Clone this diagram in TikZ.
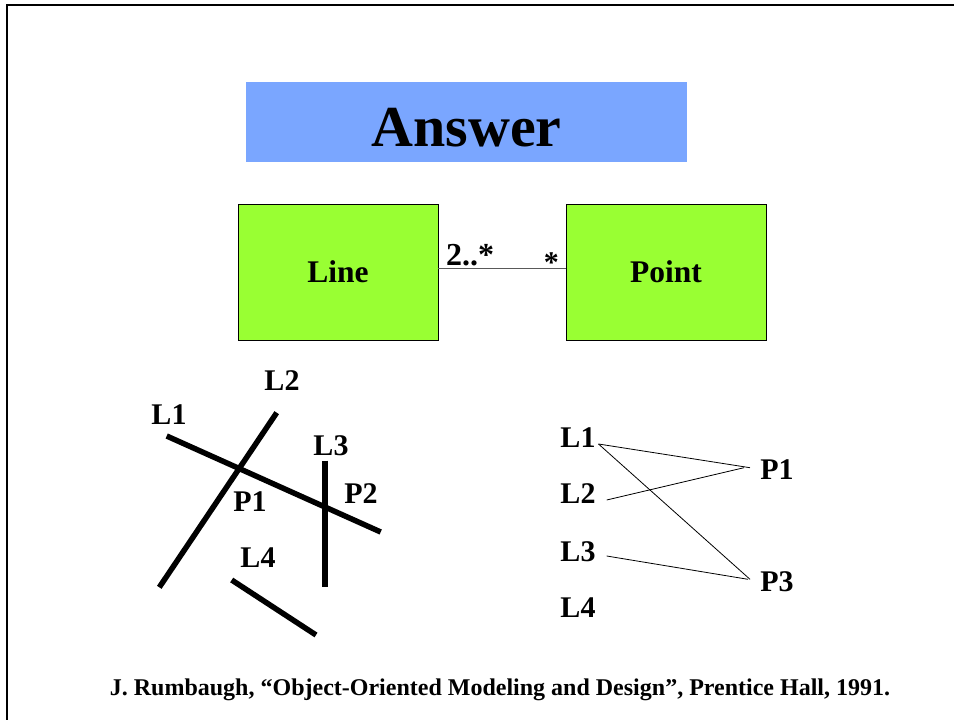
\documentclass[tikz,border=0pt]{standalone}
\usepackage{fontspec}
\setmainfont{Liberation Serif}
\definecolor{titleblue}{RGB}{122,166,255}
\definecolor{boxgreen}{RGB}{153,255,51}
\begin{document}
\begin{tikzpicture}[x=1pt,y=-1pt,
  lbl/.style={font=\bfseries\fontsize{30}{32}\selectfont, inner sep=0pt, anchor=center},
  thick line/.style={line width=5.5pt},
  thin link/.style={line width=0.8pt},
  classbox/.style={draw=black, line width=0.6pt, fill=boxgreen, minimum width=200pt, minimum height=136pt, inner sep=0pt, font=\bfseries\fontsize{31.5}{33}\selectfont}]
\useasboundingbox (0,0) rectangle (954,720);
% frame
\draw[line width=2.5pt] (7,722) -- (7,5) -- (956,5);
% title
\node[fill=titleblue, minimum width=441pt, minimum height=80pt, inner sep=0pt] (title) at (466.5,122) {};
\node[font=\bfseries\fontsize{58}{60}\selectfont, inner sep=0pt, anchor=base] (titletext) at (466.5,146) {Answer};
% classes
\node[classbox] (line) at (338,272) {Line};
\node[classbox] (point) at (666,272) {Point};
\draw[gray!70!black, line width=0.8pt] (line.east |- 0,268) coordinate (a1) -- (point.west |- 0,268) coordinate (a2);
\node[font=\bfseries\fontsize{32}{34}\selectfont, inner sep=0pt, anchor=south west] (m1) at (446,266) {2..*};
\node[font=\bfseries\fontsize{30}{32}\selectfont, inner sep=0pt, anchor=south east] (m2) at (559,273) {*};
% left geometric figure
\coordinate (l1a) at (166.7,436);
\coordinate (l1b) at (380.7,532);
\coordinate (l2a) at (276.7,412.7);
\coordinate (l2b) at (159.3,587.3);
\coordinate (l3a) at (325,460.7);
\coordinate (l3b) at (325,587.3);
\coordinate (l4a) at (231.7,580);
\coordinate (l4b) at (316,635);
\draw[thick line] (l1a) -- (l1b);
\draw[thick line] (l2a) -- (l2b);
\draw[thick line] (l3a) -- (l3b);
\draw[thick line] (l4a) -- (l4b);
\node[lbl] (gL1) at (169,415) {L1};
\node[lbl] (gL2) at (282,381) {L2};
\node[lbl] (gL3) at (331,446) {L3};
\node[lbl] (gP1) at (250,502) {P1};
\node[lbl] (gP2) at (361,494) {P2};
\node[lbl] (gL4) at (258,558) {L4};
% right mapping
\node[lbl] (rL1) at (578,438) {L1};
\node[lbl] (rL2) at (578,494) {L2};
\node[lbl] (rL3) at (578,552) {L3};
\node[lbl] (rL4) at (578,608) {L4};
\node[lbl] (rP1) at (777,470) {P1};
\node[lbl] (rP3) at (777,582) {P3};
\coordinate (cL1) at (598.5,444);
\coordinate (cL2) at (606.7,500);
\coordinate (cL3) at (606.7,556);
\coordinate (cP1a) at (750,467.7);
\coordinate (cP1b) at (744,467.7);
\coordinate (cP3a) at (750,579.3);
\coordinate (cP3b) at (748,579.3);
\draw[thin link] (cL1) -- (cP1a);
\draw[thin link] (cL1) -- (cP3a);
\draw[thin link] (cL2) -- (cP1b);
\draw[thin link] (cL3) -- (cP3b);
% citation
\node[font=\bfseries\fontsize{24}{26}\selectfont, inner sep=0pt] (cite) at (500,690) {J. Rumbaugh, “Object-Oriented Modeling and Design”, Prentice Hall, 1991.};
\end{tikzpicture}
\end{document}
